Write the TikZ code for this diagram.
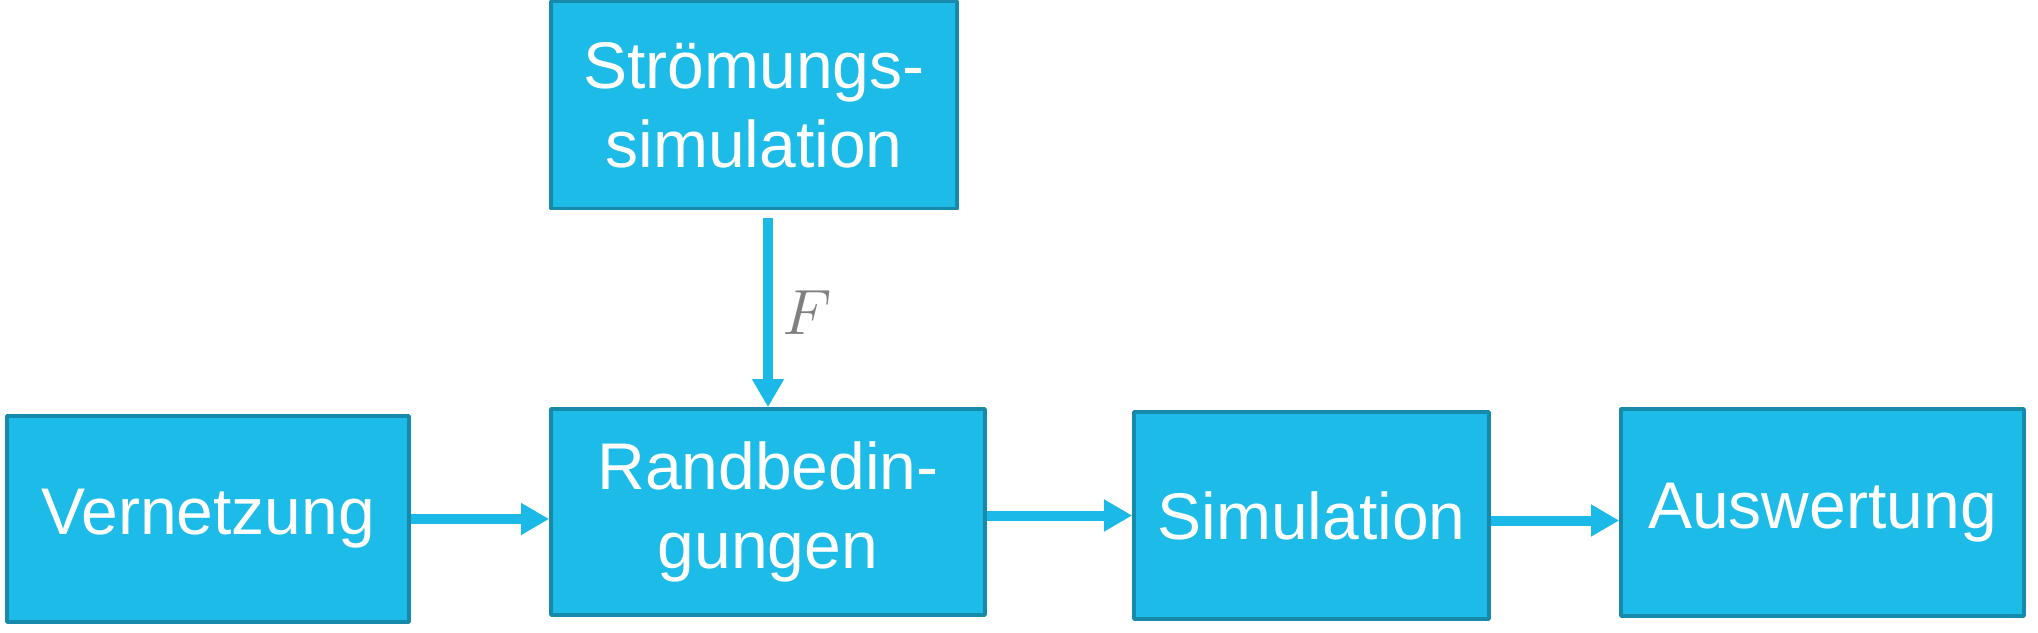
\RequirePackage{fix-cm}
\documentclass[tikz,border=0pt]{standalone}
\usepackage{amsmath}
\usepackage{fontspec}
\setmainfont{Liberation Sans}
\usetikzlibrary{arrows, arrows.meta}
\definecolor{boxblau}{HTML}{1DBBE8}
\definecolor{randblau}{HTML}{1789AA}
\definecolor{pfeilblau}{HTML}{1AB9E7}
\tikzset{
  block/.style={draw=randblau, fill=boxblau, line width=1.8pt, line join=round,
    text=white, align=center, inner sep=0pt,
    font=\fontsize{33}{39.5}\selectfont},
  pfeil/.style={draw=pfeilblau, line width=5pt,
    -{Triangle[length=14pt, width=15pt]}},
}

\begin{document}
\begin{tikzpicture}[x=0.5pt, y=0.5pt]
\useasboundingbox (0,0) rectangle (2038,632);
%\draw[step=100,gray,very thin] (0,0) grid (2038,632);
\node[block, minimum width=201pt, minimum height=103pt] (vern) at (208,113) {Vernetzung};
\node[block, minimum width=203pt, minimum height=103.5pt] (str) at (754,527) {Strömungs-\\simulation};
\node[block, minimum width=217pt, minimum height=103pt] (rand) at (768,120) {Randbedin-\\gungen};
\node[block, minimum width=177.5pt, minimum height=103.5pt] (sim) at (1311.5,116.5) {Simulation};
\node[block, minimum width=201.5pt, minimum height=103.5pt] (ausw) at (1822.5,119.5) {Auswertung};
\draw[pfeil] ([yshift=-4pt]rand.north |- str.south) -- (rand.north)
  node[pos=0.5, right=4.5pt, inner sep=0pt, text=gray, font=\fontsize{32}{39.5}\selectfont] (kraft) {$F$};
\draw[pfeil] (vern.east) -- (vern.east -| rand.west);
\draw[pfeil] (sim.west -| rand.east) -- (sim.west);
\draw[pfeil] ([yshift=-2.5pt]sim.east) -- ([yshift=-2.5pt]sim.east -| ausw.west);
\end{tikzpicture}
\end{document}
